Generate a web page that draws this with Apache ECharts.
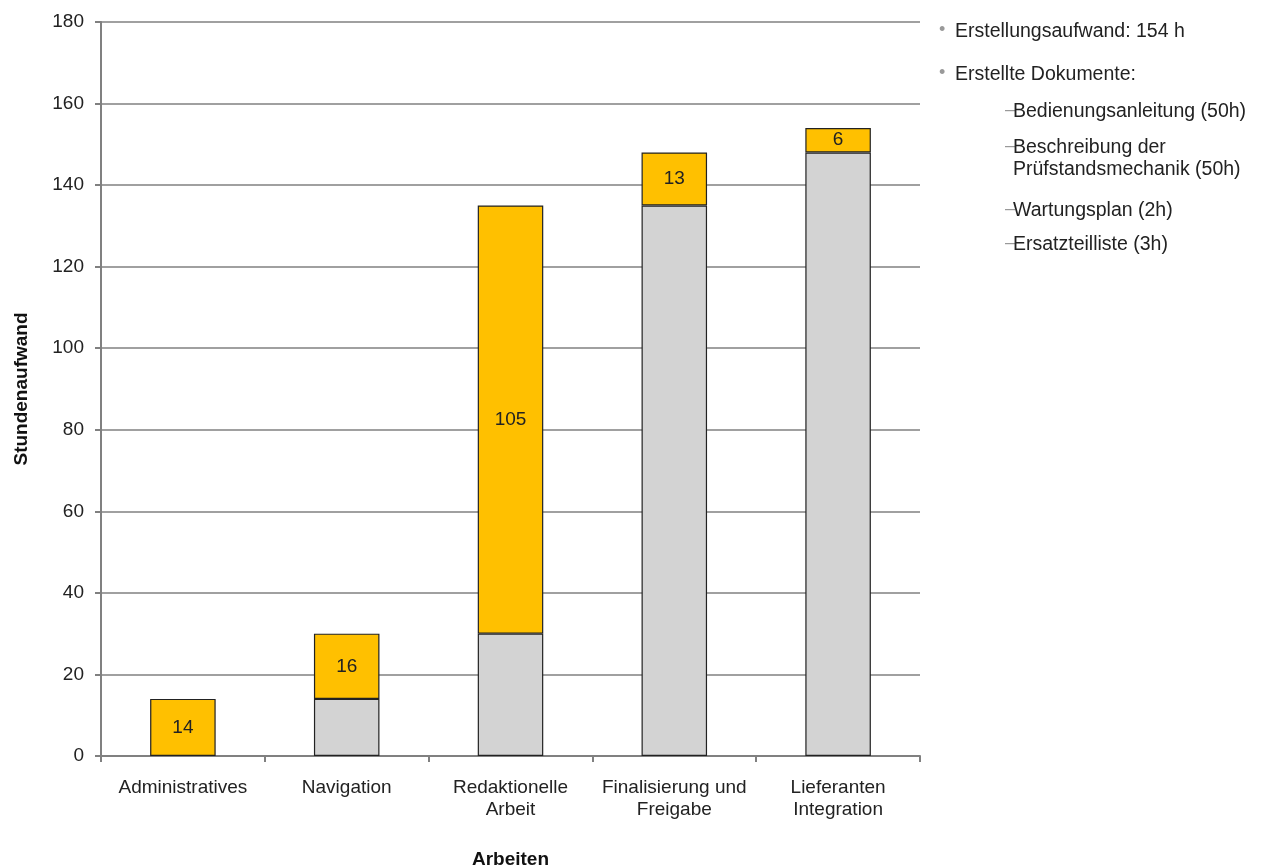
<!DOCTYPE html>
<html>
<head>
<meta charset="utf-8">
<script src="https://cdn.jsdelivr.net/npm/echarts@6/dist/echarts.min.js"></script>
<style>
  html, body { margin: 0; padding: 0; background: #fff; }
  #chart { width: 1263px; height: 867px; }
</style>
</head>
<body>
<div id="chart"></div>
<script>
// Wasserfall: Stundenaufwand je Arbeitsschritt
var categories = ['Administratives', 'Navigation', 'Redaktionelle\nArbeit', 'Finalisierung und\nFreigabe', 'Lieferanten\nIntegration'];
var basis = [0, 14, 30, 135, 148];      // grauer Sockel (bisher aufgelaufen)
var zuwachs = [14, 16, 105, 13, 6];     // gelber Anteil
var yTicks = [0, 20, 40, 60, 80, 100, 120, 140, 160, 180];
var notes = [
  { level: 0, text: 'Erstellungsaufwand: 154 h' },
  { level: 0, text: 'Erstellte Dokumente:' },
  { level: 1, text: 'Bedienungsanleitung (50h)' },
  { level: 1, text: 'Beschreibung der\nPrüfstandsmechanik (50h)' },
  { level: 1, text: 'Wartungsplan (2h)' },
  { level: 1, text: 'Ersatzteilliste (3h)' }
];

(function () {
  var myChart = echarts.init(document.getElementById('chart'))
  var font = 'Liberation Sans, Arial, sans-serif'

  // rechte Textspalte
  var graphics = []
  var y = [32, 75, 112, 148, 211, 245]
  notes.forEach(function (n, i) {
    // Aufzaehlungszeichen
    graphics.push({
      type: 'text', left: n.level === 0 ? 939 : 1005, top: y[i] - 11,
      style: { text: n.level === 0 ? '•' : '–', fill: '#999', font: '18px ' + font }
    })
    graphics.push({
      type: 'text', left: n.level === 0 ? 955 : 1013, top: y[i] - 11,
      style: { text: n.text, fill: '#222', font: '19.5px ' + font, lineHeight: 22 }
    })
  })

  var option = {
    animation: false,
    textStyle: { fontFamily: font },
    grid: { left: 101, right: 343, top: 22, bottom: 111, outerBoundsMode: 'none', containLabel: false },
    xAxis: {
      type: 'category',
      data: categories,
      name: 'Arbeiten',
      nameLocation: 'middle',
      nameGap: 94,
      nameTextStyle: { fontWeight: 'bold', fontSize: 19, color: '#111' },
      axisLine: { lineStyle: { color: '#808080', width: 2 } },
      axisTick: { show: true, length: 6, lineStyle: { color: '#808080', width: 2 } },
      axisLabel: { interval: 0, color: '#222', fontSize: 19, margin: 21, lineHeight: 22 }
    },
    yAxis: {
      type: 'value',
      min: 0, max: 180, interval: 20,
      name: 'Stundenaufwand',
      nameLocation: 'middle',
      nameGap: 70,
      nameTextStyle: { fontWeight: 'bold', fontSize: 19, color: '#111' },
      axisLine: { show: true, lineStyle: { color: '#808080', width: 2 } },
      axisTick: { show: true, length: 6, lineStyle: { color: '#808080', width: 2 } },
      axisLabel: {
        color: '#222', fontSize: 19, margin: 17,
        formatter: function (v) { return yTicks.indexOf(v) >= 0 ? String(v) : '' }
      },
      splitLine: { lineStyle: { color: '#808080', width: 1.5 } }
    },
    series: [{
      name: 'Basis',
      type: 'bar',
      stack: 'w',
      barWidth: '40%',
      data: basis.map(function (v) { return v === 0 ? '-' : v }),
      itemStyle: { color: '#d3d3d3', borderColor: '#222', borderWidth: 1.2 }
    }, {
      name: 'Zuwachs',
      type: 'bar',
      stack: 'w',
      barWidth: '40%',
      data: zuwachs,
      itemStyle: { color: '#ffc000', borderColor: '#222', borderWidth: 1.2 },
      label: { show: true, position: 'inside', color: '#222', fontSize: 19 }
    }],
    graphic: graphics
  }
  myChart.setOption(option)
})()
</script>
</body>
</html>
